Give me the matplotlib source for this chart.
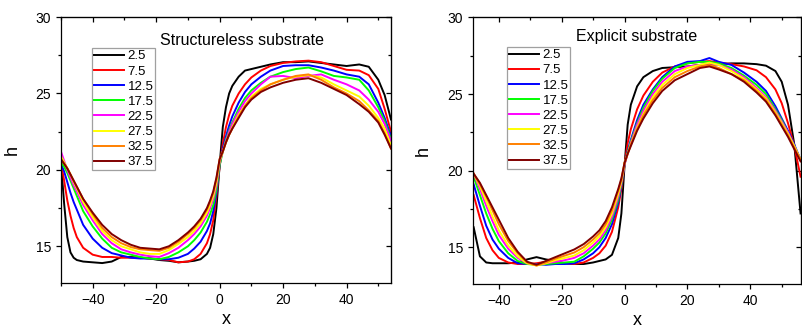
import matplotlib
matplotlib.use("Agg")
import numpy as np
import matplotlib.pyplot as plt
from matplotlib.ticker import MultipleLocator

plt.rcParams['font.family'] = ['Liberation Sans', 'DejaVu Sans']

labels = ['2.5', '7.5', '12.5', '17.5', '22.5', '27.5', '32.5', '37.5']
colors = ['#000000', '#ff0000', '#0000ff', '#00ff00', '#ff00ff', '#ffff00', '#ff8000', '#800000']

# structureless substrate
x_left = [-50, -49, -48, -47, -46, -45, -43, -40, -37, -34, -31, -28, -25, -22, -19, -16, -13, -10,
          -8, -6, -4, -3, -2, -1, 0, 1, 2, 3, 4, 6, 8, 10, 13, 16, 20, 24, 28, 32, 36, 40, 44, 47,
          50, 52, 54]
h_left_25 = [20.5, 17.8, 15.6, 14.6, 14.25, 14.1, 14.0, 13.95, 13.9, 14.0, 14.3, 14.3, 14.25, 14.2,
             14.1, 14.05, 13.95, 14.0, 14.05, 14.15, 14.5, 14.9, 15.8, 17.5, 20.3, 22.8, 24.1, 25.0,
             25.5, 26.1, 26.5, 26.6, 26.75, 26.9, 27.05, 27.05, 27.1, 27.0, 26.9, 26.8, 26.9, 26.75,
             25.9, 24.9, 23.3]
h_left_75 = [20.5, 19.3, 18.0, 17.0, 16.2, 15.6, 14.9, 14.45, 14.3, 14.3, 14.25, 14.25, 14.25, 14.2,
             14.15, 14.1, 13.95, 14.0, 14.15, 14.5, 15.2, 15.8, 16.7, 18.3, 20.2, 21.7, 22.8, 23.6,
             24.2, 25.0, 25.6, 26.05, 26.5, 26.8, 27.0, 27.1, 27.15, 27.05, 26.8, 26.55, 26.5, 26.2,
             25.3, 24.0, 22.5]
h_left_125 = [20.4, 19.9, 19.2, 18.5, 17.9, 17.4, 16.4, 15.5, 14.9, 14.55, 14.4, 14.25, 14.2, 14.2,
              14.15, 14.15, 14.25, 14.5, 14.85, 15.3, 16.0, 16.5, 17.3, 18.5, 20.3, 21.4, 22.2, 22.9,
              23.5, 24.4, 25.1, 25.6, 26.1, 26.5, 26.8, 26.85, 26.85, 26.7, 26.5, 26.25, 26.1, 25.6,
              24.4, 23.4, 22.2]
h_left_175 = [20.5, 20.2, 19.8, 19.3, 18.8, 18.3, 17.3, 16.3, 15.5, 14.9, 14.6, 14.45, 14.3, 14.2,
              14.15, 14.3, 14.6, 15.0, 15.4, 15.9, 16.6, 17.1, 17.7, 18.7, 20.3, 21.2, 22.0, 22.6,
              23.1, 24.0, 24.7, 25.2, 25.7, 26.1, 26.4, 26.6, 26.7, 26.45, 26.15, 26.05, 25.9, 25.2,
              24.1, 23.2, 22.0]
h_left_225 = [21.2, 20.6, 20.0, 19.5, 19.0, 18.6, 17.7, 16.7, 15.8, 15.2, 14.8, 14.6, 14.45, 14.35,
              14.3, 14.55, 14.9, 15.4, 15.8, 16.3, 17.0, 17.5, 18.1, 19.0, 20.5, 21.2, 21.9, 22.5,
              23.0, 23.8, 24.5, 25.0, 25.6, 26.1, 26.15, 26.0, 26.15, 26.25, 25.9, 25.6, 25.2, 24.6,
              23.8, 23.0, 21.9]
h_left_275 = [20.9, 20.5, 20.1, 19.7, 19.2, 18.8, 17.9, 16.9, 16.0, 15.4, 15.0, 14.8, 14.6, 14.5,
              14.5, 14.75, 15.15, 15.6, 16.0, 16.5, 17.2, 17.7, 18.3, 19.2, 20.6, 21.2, 21.8, 22.3,
              22.8, 23.6, 24.2, 24.8, 25.3, 25.6, 25.9, 26.1, 26.2, 26.05, 25.6, 25.2, 24.8, 24.2,
              23.4, 22.7, 21.6]
h_left_325 = [20.7, 20.4, 20.1, 19.7, 19.3, 18.9, 18.1, 17.1, 16.2, 15.6, 15.2, 14.95, 14.8, 14.75,
              14.7, 14.9, 15.3, 15.8, 16.2, 16.7, 17.4, 17.9, 18.5, 19.4, 20.7, 21.2, 21.8, 22.3,
              22.7, 23.5, 24.2, 24.7, 25.2, 25.6, 25.9, 26.15, 26.25, 25.9, 25.4, 25.0, 24.5, 23.9,
              23.2, 22.4, 21.4]
h_left_375 = [20.7, 20.4, 20.1, 19.7, 19.3, 18.9, 18.1, 17.2, 16.4, 15.8, 15.4, 15.1, 14.9, 14.85,
              14.8, 15.0, 15.4, 15.9, 16.3, 16.8, 17.5, 18.0, 18.6, 19.5, 20.7, 21.2, 21.8, 22.3,
              22.7, 23.4, 24.1, 24.6, 25.1, 25.4, 25.7, 25.9, 26.0, 25.7, 25.3, 24.9, 24.3, 23.8,
              23.1, 22.3, 21.4]

# explicit substrate
x_right = [-48, -46, -44, -42, -40, -37, -34, -31, -28, -25, -22, -19, -16, -13, -10, -8, -6, -4,
           -2, -1, 0, 1, 2, 4, 6, 9, 12, 16, 20, 24, 27, 30, 34, 38, 42, 45, 48, 50, 52, 54, 56]
h_right_25 = [16.3, 14.4, 14.0, 13.95, 13.95, 13.95, 14.0, 14.2, 14.35, 14.2, 14.1, 13.95, 13.9,
              13.9, 14.0, 14.1, 14.2, 14.5, 15.6, 17.2, 20.3, 23.0, 24.3, 25.5, 26.1, 26.5, 26.7,
              26.75, 26.8, 26.9, 26.9, 26.95, 27.0, 27.0, 26.95, 26.85, 26.5, 25.8, 24.3, 21.7, 17.2]
h_right_75 = [18.4, 16.9, 15.6, 14.8, 14.3, 14.0, 13.9, 13.9, 13.95, 14.05, 14.0, 13.95, 13.9, 14.0,
              14.3, 14.6, 15.1, 16.0, 17.6, 18.8, 20.4, 21.8, 22.7, 24.0, 24.9, 25.8, 26.4, 26.8,
              27.0, 27.1, 27.15, 27.05, 26.95, 26.8, 26.55, 26.1, 25.3, 24.4, 23.1, 21.6, 19.6]
h_right_125 = [19.1, 17.7, 16.4, 15.5, 14.9, 14.3, 13.95, 13.9, 13.9, 13.85, 13.9, 13.9, 13.95, 14.2,
               14.6, 15.0, 15.6, 16.5, 17.9, 19.0, 20.4, 21.3, 22.0, 23.3, 24.3, 25.3, 26.1, 26.8,
               27.1, 27.15, 27.35, 27.1, 26.9, 26.4, 25.8, 25.2, 24.2, 23.4, 22.6, 21.7, 20.7]
h_right_175 = [19.6, 18.4, 17.2, 16.2, 15.4, 14.6, 14.1, 13.9, 13.85, 13.9, 13.95, 14.0, 14.05, 14.4,
               14.9, 15.3, 15.9, 16.8, 18.1, 19.1, 20.4, 21.2, 21.9, 23.1, 24.1, 25.2, 26.0, 26.7,
               27.0, 27.1, 27.1, 27.0, 26.7, 26.2, 25.6, 25.0, 24.0, 23.3, 22.5, 21.6, 20.7]
h_right_225 = [19.8, 18.8, 17.7, 16.7, 15.8, 14.9, 14.3, 13.95, 13.85, 13.95, 14.05, 14.15, 14.3,
               14.6, 15.1, 15.5, 16.1, 17.0, 18.3, 19.2, 20.4, 21.1, 21.8, 23.0, 23.9, 25.0, 25.8,
               26.5, 26.8, 26.9, 27.0, 26.9, 26.6, 26.1, 25.4, 24.8, 23.9, 23.2, 22.5, 21.6, 20.7]
h_right_275 = [19.8, 19.0, 18.0, 17.0, 16.1, 15.1, 14.4, 13.95, 13.8, 13.95, 14.15, 14.3, 14.45, 14.8,
               15.3, 15.7, 16.3, 17.2, 18.5, 19.3, 20.5, 21.1, 21.7, 22.8, 23.7, 24.8, 25.6, 26.3,
               26.7, 26.9, 27.05, 26.9, 26.5, 26.0, 25.3, 24.7, 23.8, 23.1, 22.4, 21.6, 20.7]
h_right_325 = [19.8, 19.1, 18.3, 17.4, 16.5, 15.4, 14.6, 14.0, 13.8, 14.0, 14.25, 14.45, 14.65, 15.0,
               15.5, 15.9, 16.5, 17.4, 18.7, 19.4, 20.5, 21.1, 21.7, 22.7, 23.6, 24.6, 25.4, 26.1,
               26.5, 26.8, 26.9, 26.7, 26.3, 25.9, 25.2, 24.6, 23.7, 23.0, 22.3, 21.5, 20.7]
h_right_375 = [19.8, 19.2, 18.4, 17.6, 16.8, 15.6, 14.7, 14.05, 13.85, 14.1, 14.35, 14.6, 14.85, 15.2,
               15.7, 16.1, 16.7, 17.6, 18.8, 19.5, 20.5, 21.1, 21.6, 22.6, 23.4, 24.4, 25.2, 25.9,
               26.3, 26.7, 26.8, 26.6, 26.3, 25.8, 25.1, 24.5, 23.6, 22.9, 22.2, 21.4, 20.6]

left_series = [h_left_25, h_left_75, h_left_125, h_left_175, h_left_225, h_left_275, h_left_325, h_left_375]
right_series = [h_right_25, h_right_75, h_right_125, h_right_175, h_right_225, h_right_275, h_right_325, h_right_375]

fig = plt.figure(figsize=(8.02, 3.29), dpi=100)
ax1 = fig.add_axes([0.076, 0.140, 0.4115, 0.808])
ax2 = fig.add_axes([0.5894, 0.137, 0.4096, 0.810])


def style(ax, xlim, title, tx, ty, leg_xy):
    ax.set_xlim(*xlim)
    ax.set_ylim(12.6, 30)
    ax.xaxis.set_major_locator(MultipleLocator(20))
    ax.xaxis.set_minor_locator(MultipleLocator(10))
    ax.yaxis.set_major_locator(MultipleLocator(5))
    ax.yaxis.set_minor_locator(MultipleLocator(2.5))
    ax.tick_params(which='both', direction='out', labelsize=10, width=0.9)
    ax.tick_params(which='major', length=3.5)
    ax.tick_params(which='minor', length=2)
    # mirrored ticks pointing in
    top = ax.secondary_xaxis('top')
    top.xaxis.set_major_locator(MultipleLocator(20))
    top.xaxis.set_minor_locator(MultipleLocator(10))
    top.tick_params(which='both', direction='in', labeltop=False, width=0.9)
    top.tick_params(which='major', length=3.5)
    top.tick_params(which='minor', length=2)
    right = ax.secondary_yaxis('right')
    right.yaxis.set_major_locator(MultipleLocator(5))
    right.yaxis.set_minor_locator(MultipleLocator(2.5))
    right.tick_params(which='both', direction='in', labelright=False, width=0.9)
    right.tick_params(which='major', length=3.5)
    right.tick_params(which='minor', length=2)
    for sp in ax.spines.values():
        sp.set_linewidth(0.9)
    ax.set_xlabel('x', fontsize=13, labelpad=3)
    ax.set_ylabel('h', fontsize=13, labelpad=11)
    ax.text(tx, ty, title, transform=ax.transAxes, fontsize=11.5, ha='center', va='center')
    leg = ax.legend(loc='upper left', bbox_to_anchor=leg_xy, fontsize=9.5, frameon=True,
                    fancybox=False, edgecolor='#888888', borderpad=0.15, labelspacing=0.22,
                    handlelength=2.3, handletextpad=0.25, borderaxespad=0)
    leg.get_frame().set_linewidth(0.9)


for h, c, lab in zip(left_series, colors, labels):
    ax1.plot(x_left, h, color=c, lw=1.4, label=lab)
for h, c, lab in zip(right_series, colors, labels):
    ax2.plot(x_right, h, color=c, lw=1.4, label=lab)

style(ax1, (-50, 54), 'Structureless substrate', 0.55, 0.913, (0.094, 0.883))
style(ax2, (-48.3, 56.2), 'Explicit substrate', 0.50, 0.93, (0.104, 0.889))

fig.savefig('out.png', dpi=100)
